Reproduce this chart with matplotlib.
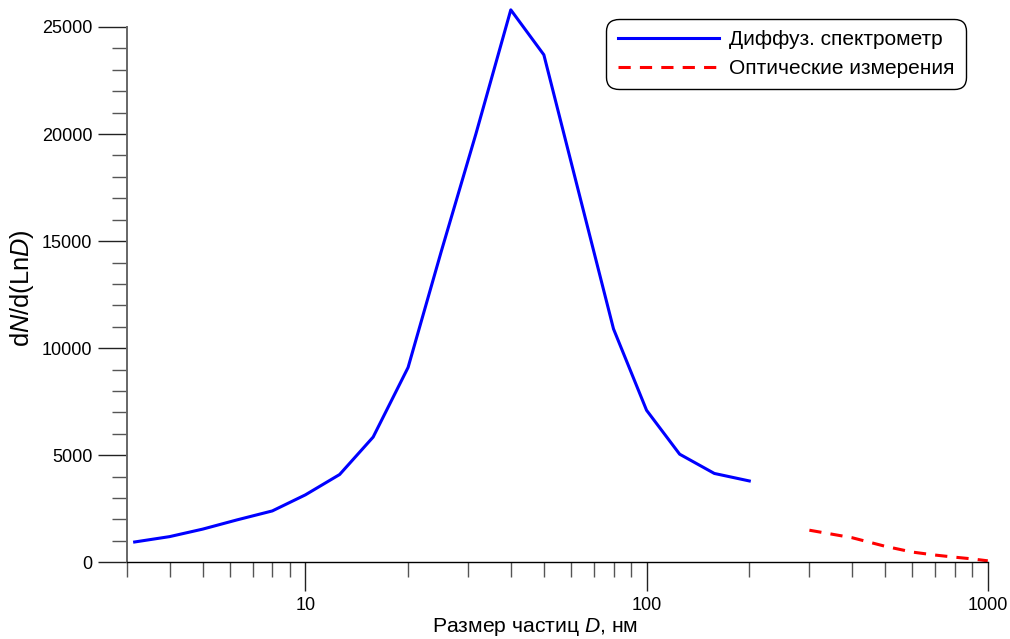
import matplotlib.pyplot as plt
from matplotlib.ticker import LogLocator, NullFormatter, FixedLocator

plt.rcParams['font.family'] = ['Liberation Sans', 'DejaVu Sans']
plt.rcParams['mathtext.fontset'] = 'custom'
plt.rcParams['mathtext.rm'] = 'Liberation Sans'
plt.rcParams['mathtext.it'] = 'Liberation Sans:italic'

# diffusion spectrometer
d_diff = [3.16, 4, 5, 6.3, 8, 10, 12.6, 15.8, 20, 25, 31.6, 40, 50, 63, 80, 100, 125, 158, 200]
n_diff = [950, 1200, 1550, 1980, 2400, 3150, 4100, 5850, 9100, 14500, 20000,
          25800, 23700, 17400, 10900, 7100, 5050, 4150, 3800]

# optical measurements
d_opt = [300, 400, 500, 600, 700, 800, 900, 1000]
n_opt = [1500, 1150, 750, 480, 340, 240, 160, 70]

y_major = [0, 5000, 10000, 15000, 20000, 25000]
y_minor = [v for v in range(0, 25001, 1000) if v % 5000]

fig = plt.figure(figsize=(10.1, 6.39), dpi=100)
ax = fig.add_axes([0.1257, 0.12, 0.8523, 0.878])

ax.plot(d_diff, n_diff, color='#0000ff', lw=2.2, label='Диффуз. спектрометр', clip_on=False)
ax.plot(d_opt, n_opt, color='#ff0000', lw=2.2, ls=(0, (4, 3)), label='Оптические измерения',
        clip_on=False)

ax.set_xscale('log')
ax.set_xlim(3, 1000)
ax.set_ylim(0, 26200)

ax.xaxis.set_major_locator(FixedLocator([10, 100, 1000]))
ax.xaxis.set_minor_locator(LogLocator(base=10, subs=range(2, 10)))
ax.xaxis.set_minor_formatter(NullFormatter())
ax.set_xticklabels(['10', '100', '1000'])
ax.yaxis.set_major_locator(FixedLocator(y_major))
ax.yaxis.set_minor_locator(FixedLocator(y_minor))

for s in ['top', 'right']:
    ax.spines[s].set_visible(False)
ax.spines['left'].set_bounds(0, 25000)
ax.spines['left'].set_color('#666666')
ax.spines['left'].set_linewidth(1.4)
ax.spines['bottom'].set_linewidth(1.0)

ax.tick_params(which='major', length=21, width=1.0, color='#222222', labelsize=13, pad=4)
ax.tick_params(which='minor', length=11, width=1.0, color='#555555')

ax.set_xlabel('Размер частиц $\\it{D}$, нм', fontsize=15.2)
ax.xaxis.set_label_coords(0.474, -0.096)
ax.set_ylabel('d$\\it{N}$/d(Ln$\\it{D}$)', fontsize=18.3)
ax.yaxis.set_label_coords(-0.106, 0.489)

leg = ax.legend(loc='upper right', bbox_to_anchor=(966 / 1010, 1 - 19 / 639),
                bbox_transform=fig.transFigure, borderaxespad=0, fontsize=15,
                handlelength=4.85, handletextpad=0.5, labelspacing=0.45,
                fancybox=True, framealpha=1, edgecolor='black', borderpad=0.55)
leg.get_frame().set_linewidth(1.0)
leg.get_frame().set_boxstyle('round,pad=0,rounding_size=0.6')

fig.savefig('out.png', dpi=100)
